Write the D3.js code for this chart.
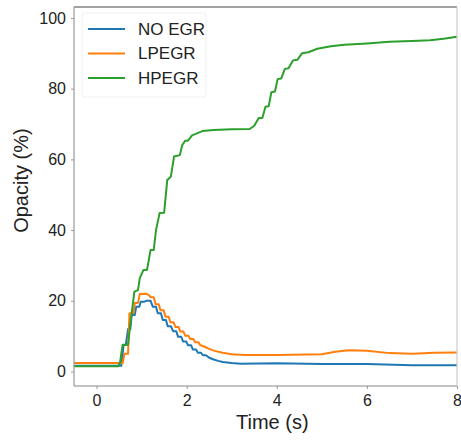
<!DOCTYPE html>
<html>
<head>
<meta charset="utf-8">
<script src="https://cdn.jsdelivr.net/npm/d3@7"></script>
<style>
  body { margin: 0; background: #fff; }
  text { font-family: "Liberation Sans", Arial, sans-serif; fill: #222; }
</style>
</head>
<body>
<div class="chart"></div>
<script>
// [time (s), opacity (%)]
const noEgr = [[-0.5,1.6],[0.55,1.6],[0.6,7.5],[0.65,7.5],[0.7,12],[0.75,12],[0.78,16],[0.85,16],[0.88,18.3],[0.95,18.3],
  [0.98,19.7],[1.05,19.7],[1.1,20],[1.2,20],[1.25,18.3],[1.32,18.3],[1.36,16.5],[1.43,16.5],[1.47,14.6],[1.54,14.6],
  [1.58,12.8],[1.65,12.8],[1.7,11.4],[1.77,11.4],[1.81,9.8],[1.88,9.8],[1.92,8.5],[1.99,8.5],[2.03,7.4],[2.1,7.4],
  [2.14,6.2],[2.21,6.2],[2.25,5.3],[2.32,5.3],[2.36,4.6],[2.43,4.6],[2.5,3.9],[2.6,3.4],[2.7,3.0],[2.8,2.7],
  [3.0,2.4],[3.2,2.2],[4,2.3],[5,2.1],[6,2.1],[7,1.8],[8,1.8]];
const lpegr = [[-0.5,2.4],[0.58,2.4],[0.62,5],[0.7,5],[0.73,16.5],[0.82,16.5],[0.85,19.4],[0.92,19.4],[0.96,21.9],[1.1,22],
  [1.17,21.5],[1.2,21],[1.27,21],[1.31,19],[1.38,19],[1.42,17.3],[1.49,17.3],[1.53,15.5],[1.6,15.5],[1.64,13.9],
  [1.71,13.9],[1.75,12.6],[1.82,12.6],[1.86,11.3],[1.93,11.3],[1.97,10.1],[2.04,10.1],[2.08,9.2],[2.15,9.2],[2.19,8.3],
  [2.26,8.3],[2.3,7.5],[2.4,7],[2.5,6.4],[2.6,5.9],[2.8,5.3],[3.0,4.9],[3.3,4.7],[4,4.7],[5,4.9],[5.3,5.6],[5.6,6.0],
  [6.0,5.9],[6.5,5.2],[7.0,5.0],[7.5,5.3],[8,5.4]];
const hpegr = [[-0.5,1.5],[0.48,1.5],[0.52,2.4],[0.58,7.6],[0.7,7.6],[0.76,14.5],[0.84,22.6],[0.92,23],[0.96,26.4],[1.04,28.7],
  [1.12,28.7],[1.2,34.4],[1.27,34.4],[1.32,40],[1.4,44.8],[1.5,44.9],[1.57,54.2],[1.65,55.1],[1.72,60.8],[1.85,61.2],
  [1.9,64],[1.97,65.3],[2.03,65.3],[2.12,66.8],[2.2,67.2],[2.35,68],[2.6,68.3],[3.0,68.5],[3.4,68.6],[3.5,69.5],
  [3.6,71.7],[3.68,71.7],[3.75,74.9],[3.82,75],[3.88,79],[3.96,79.2],[4.02,82.7],[4.1,82.9],[4.18,85.6],[4.26,85.8],
  [4.36,88],[4.46,88.2],[4.56,90],[4.7,90.3],[4.9,91.3],[5.2,92],[5.5,92.4],[6.0,92.8],[6.5,93.3],[7.0,93.5],
  [7.4,93.7],[7.7,94.1],[8.0,94.7]];

const seriesNames = ['NO EGR', 'LPEGR', 'HPEGR'];
const seriesColors = ['#1f77b4', '#ff7f0e', '#2ca02c'];
const xTicks = [0, 2, 4, 6, 8];
const yTicks = [0, 20, 40, 60, 80, 100];

const margin = {top: 7, right: 4, bottom: 55, left: 74};
const width = 461 - margin.left - margin.right;
const height = 441 - margin.top - margin.bottom;

const svg = d3.select('.chart').append('svg')
    .attr('width', 461)
    .attr('height', 441)
  .append('g')
    .attr('transform', `translate(${margin.left},${margin.top})`);

const x = d3.scaleLinear().domain([-0.5, 8]).range([0, width]);
const y = d3.scaleLinear().domain([-4.1, 103.1]).range([height, 0]);

// axes
const xAxis = svg.append('g')
    .attr('transform', `translate(0,${height})`)
    .call(d3.axisBottom(x).tickValues(xTicks).tickSize(3).tickPadding(6));
const yAxis = svg.append('g')
    .call(d3.axisLeft(y).tickValues(yTicks).tickSize(3).tickPadding(5));
[xAxis, yAxis].forEach(a => {
  a.select('.domain').remove();
  a.selectAll('line').attr('stroke', '#999');
  a.selectAll('text').style('font-size', '16px').attr('fill', '#222');
});

// lines
const line = d3.line().x(d => x(d[0])).y(d => y(d[1]));
[noEgr, lpegr, hpegr].forEach((data, i) => {
  svg.append('path')
    .datum(data)
    .attr('fill', 'none')
    .attr('stroke', seriesColors[i])
    .attr('stroke-width', 2)
    .attr('stroke-linejoin', 'round')
    .attr('d', line);
});

// frame
svg.append('line').attr('x1', 0).attr('x2', width).attr('y1', 0).attr('y2', 0).attr('stroke', '#444').attr('stroke-width', 1.2);
svg.append('line').attr('x1', 0).attr('x2', 0).attr('y1', 0).attr('y2', height).attr('stroke', '#999').attr('stroke-width', 1.2);
svg.append('line').attr('x1', 0).attr('x2', width).attr('y1', height).attr('y2', height).attr('stroke', '#888').attr('stroke-width', 1.2);
svg.append('line').attr('x1', width).attr('x2', width).attr('y1', 0).attr('y2', height).attr('stroke', '#ccc').attr('stroke-width', 1.2);

// legend
const legend = svg.append('g').attr('transform', 'translate(8,6)');
legend.append('rect')
    .attr('width', 124).attr('height', 84).attr('rx', 3)
    .attr('fill', '#fff').attr('stroke', '#f0f0f0');
seriesNames.forEach((name, i) => {
  const row = legend.append('g').attr('transform', `translate(0,${16 + i * 24.5})`);
  row.append('line').attr('x1', 6).attr('x2', 43).attr('stroke', seriesColors[i]).attr('stroke-width', 2);
  row.append('text').attr('x', 56).attr('dy', '0.35em').style('font-size', '17px').text(name);
});

// axis labels
svg.append('text')
    .attr('x', x(3.9)).attr('y', height + 43)
    .attr('text-anchor', 'middle')
    .style('font-size', '20px')
    .text('Time (s)');
svg.append('text')
    .attr('transform', `translate(${-46},${y(54)}) rotate(-90)`)
    .attr('text-anchor', 'middle')
    .style('font-size', '20px')
    .text('Opacity (%)');
</script>
</body>
</html>
